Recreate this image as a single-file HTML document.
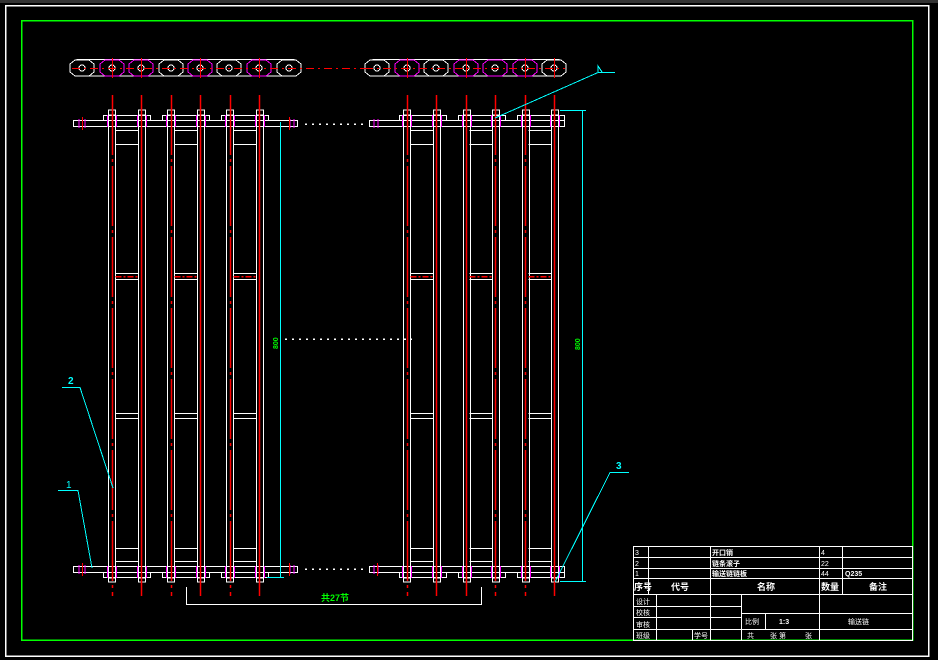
<!DOCTYPE html>
<html><head><meta charset="utf-8"><style>
html,body{margin:0;padding:0;background:#000;}
svg{display:block;}
text{font-family:"Liberation Sans","Noto Sans CJK SC",sans-serif;}
</style></head><body>
<svg width="938" height="660" viewBox="0 0 938 660" xmlns="http://www.w3.org/2000/svg" shape-rendering="crispEdges">
<rect x="0" y="0" width="938" height="660" fill="#000"/>
<rect x="0" y="0" width="938" height="3" fill="#333"/>
<rect x="5.5" y="5.5" width="923" height="650.5" fill="none" stroke="#fff" stroke-width="1.5"/>
<rect x="21.5" y="20.5" width="891" height="619.5" fill="none" stroke="#0f0" stroke-width="1.5"/>

<defs>
<g id="post">
  <line x1="0" y1="115" x2="0" y2="578" stroke="#fff"/>
  <line x1="7" y1="115" x2="7" y2="578" stroke="#fff"/>
  <rect x="0" y="110" width="7" height="5" fill="none" stroke="#fff"/>
  <rect x="0" y="578" width="7" height="4" fill="none" stroke="#fff"/>
  <line x1="-1" y1="115" x2="-1" y2="127" stroke="#f0f"/>
  <line x1="8" y1="115" x2="8" y2="127" stroke="#f0f"/>
  <line x1="-1" y1="566" x2="-1" y2="578" stroke="#f0f"/>
  <line x1="8" y1="566" x2="8" y2="578" stroke="#f0f"/>
</g>
<g id="bars">
  <line x1="0" y1="130" x2="23" y2="130" stroke="#fff"/>
  <line x1="0" y1="144" x2="23" y2="144" stroke="#fff"/>
  <line x1="0" y1="273" x2="23" y2="273" stroke="#fff"/>
  <line x1="0" y1="279" x2="23" y2="279" stroke="#fff"/>
  <line x1="0" y1="276" x2="23" y2="276" stroke="#f00" stroke-width="1.5" stroke-dasharray="6 2 2 2"/>
  <line x1="0" y1="413" x2="23" y2="413" stroke="#fff"/>
  <line x1="0" y1="418" x2="23" y2="418" stroke="#fff"/>
  <line x1="0" y1="548" x2="23" y2="548" stroke="#fff"/>
  <line x1="0" y1="561" x2="23" y2="561" stroke="#fff"/>
</g>
<g id="link">
  <polygon points="-12,-4 -7,-8 7,-8 12,-4 12,4 7,8 -7,8 -12,4" fill="#000" stroke="#fff"/>
  <circle cx="0" cy="0" r="3" fill="none" stroke="#fff"/>
</g>
<g id="linkm">
  <polygon points="-12,-4 -7,-8 7,-8 12,-4 12,4 7,8 -7,8 -12,4" fill="#000" stroke="#f0f"/>
  <circle cx="0" cy="0" r="3" fill="none" stroke="#fff"/>
</g>
</defs>

<rect x="73" y="59.5" width="225" height="16.5" rx="5" fill="none" stroke="#fff"/>
<use href="#link" x="82" y="68"/><use href="#linkm" x="112" y="68"/><use href="#linkm" x="141" y="68"/>
<use href="#link" x="171" y="68"/><use href="#linkm" x="200" y="68"/><use href="#link" x="229" y="68"/>
<use href="#linkm" x="259" y="68"/><use href="#link" x="289" y="68"/>
<rect x="369" y="59.5" width="194" height="16.5" rx="5" fill="none" stroke="#fff"/>
<use href="#link" x="377" y="68"/><use href="#linkm" x="407" y="68"/><use href="#link" x="436" y="68"/>
<use href="#linkm" x="466" y="68"/><use href="#linkm" x="495" y="68"/><use href="#linkm" x="525" y="68"/>
<use href="#link" x="554" y="68"/>
<line x1="72" y1="68.5" x2="365" y2="68.5" stroke="#f00" stroke-dasharray="8 4 2 4"/>
<line x1="365" y1="68.5" x2="565" y2="68.5" stroke="#f00" stroke-dasharray="8 4 2 4"/>
<g stroke="#f00" stroke-width="1">
<line x1="112.5" y1="58" x2="112.5" y2="78"/><line x1="141.5" y1="58" x2="141.5" y2="78"/><line x1="200.5" y1="58" x2="200.5" y2="78"/>
<line x1="259.5" y1="58" x2="259.5" y2="78"/><line x1="407.5" y1="58" x2="407.5" y2="78"/><line x1="466.5" y1="58" x2="466.5" y2="78"/>
<line x1="525.5" y1="58" x2="525.5" y2="78"/><line x1="554.5" y1="58" x2="554.5" y2="78"/>
</g>

<g fill="#000" stroke="#fff">
<rect x="73.5" y="120.5" width="224" height="6"/>
<rect x="369.5" y="120.5" width="195" height="6"/>
<rect x="73.5" y="566.5" width="224" height="6"/>
<rect x="369.5" y="566.5" width="195" height="6"/>
<rect x="103.5" y="115.5" width="47" height="5"/><rect x="162.5" y="115.5" width="47" height="5"/><rect x="221.5" y="115.5" width="47" height="5"/>
<rect x="399.5" y="115.5" width="47" height="5"/><rect x="458.5" y="115.5" width="47" height="5"/><rect x="517.5" y="115.5" width="47" height="5"/>
<rect x="103.5" y="572.5" width="47" height="5"/><rect x="162.5" y="572.5" width="47" height="5"/><rect x="221.5" y="572.5" width="47" height="5"/>
<rect x="399.5" y="572.5" width="47" height="5"/><rect x="458.5" y="572.5" width="47" height="5"/><rect x="517.5" y="572.5" width="47" height="5"/>
</g>
<g stroke="#f0f"><line x1="79" y1="119" x2="79" y2="128"/><line x1="85" y1="119" x2="85" y2="128"/><line x1="290" y1="119" x2="290" y2="128"/><line x1="294" y1="119" x2="294" y2="128"/>
<line x1="374" y1="119" x2="374" y2="128"/><line x1="378" y1="119" x2="378" y2="128"/>
<line x1="79" y1="565" x2="79" y2="574"/><line x1="85" y1="565" x2="85" y2="574"/><line x1="290" y1="565" x2="290" y2="574"/><line x1="294" y1="565" x2="294" y2="574"/>
<line x1="374" y1="565" x2="374" y2="574"/><line x1="378" y1="565" x2="378" y2="574"/></g>
<g stroke="#f00" stroke-width="1"><line x1="82.5" y1="117" x2="82.5" y2="130"/><line x1="289.5" y1="117" x2="289.5" y2="130"/>
<line x1="82.5" y1="563" x2="82.5" y2="576"/><line x1="289.5" y1="563" x2="289.5" y2="576"/><line x1="377.5" y1="563" x2="377.5" y2="576"/></g>

<use href="#post" x="108.5" y="0"/><use href="#post" x="138.5" y="0"/>
<use href="#post" x="167.5" y="0"/><use href="#post" x="197.5" y="0"/>
<use href="#post" x="226.5" y="0"/><use href="#post" x="256.5" y="0"/>
<use href="#post" x="403.5" y="0"/><use href="#post" x="433.5" y="0"/>
<use href="#post" x="463.5" y="0"/><use href="#post" x="492.5" y="0"/>
<use href="#post" x="522.5" y="0"/><use href="#post" x="551.5" y="0"/>
<use href="#bars" x="115.5" y="0.5"/><use href="#bars" x="174.5" y="0.5"/><use href="#bars" x="233.5" y="0.5"/>
<use href="#bars" x="410.5" y="0.5"/><use href="#bars" x="469.5" y="0.5"/><use href="#bars" x="528.5" y="0.5"/>

<!-- red centerlines -->
<g stroke="#ff0000" stroke-width="1.5" shape-rendering="auto">
<line x1="112.5" y1="95" x2="112.5" y2="596" stroke-dasharray="60 4 3 4"/>
<line x1="141.5" y1="95" x2="141.5" y2="596"/>
<line x1="171.5" y1="95" x2="171.5" y2="596" stroke-dasharray="60 4 3 4"/>
<line x1="200.5" y1="95" x2="200.5" y2="596"/>
<line x1="230.5" y1="95" x2="230.5" y2="596" stroke-dasharray="60 4 3 4"/>
<line x1="259.5" y1="95" x2="259.5" y2="596"/>
<line x1="407.5" y1="95" x2="407.5" y2="596" stroke-dasharray="60 4 3 4"/>
<line x1="436.5" y1="95" x2="436.5" y2="596"/>
<line x1="466.5" y1="95" x2="466.5" y2="596"/>
<line x1="495.5" y1="95" x2="495.5" y2="596" stroke-dasharray="60 4 3 4"/>
<line x1="525.5" y1="95" x2="525.5" y2="596" stroke-dasharray="60 4 3 4"/>
<line x1="554.5" y1="95" x2="554.5" y2="596"/>
</g>

<g stroke="#fff" stroke-width="1.5" stroke-dasharray="2 5">
<line x1="305" y1="124" x2="365" y2="124"/>
<line x1="305" y1="569" x2="365" y2="569"/>
<line x1="285" y1="339" x2="412" y2="339"/>
</g>

<g stroke="#0ff" fill="none">
<line x1="280.5" y1="122" x2="280.5" y2="577"/>
<line x1="267" y1="577.5" x2="284" y2="577.5"/>
<line x1="582.5" y1="110" x2="582.5" y2="581"/>
<line x1="560" y1="110.5" x2="586" y2="110.5"/>
<line x1="560" y1="581.5" x2="586" y2="581.5"/>
<polyline points="62,387.5 80,387.5 113,488"/>
<polyline points="58,490.5 78,490.5 92,568"/>
<polyline points="629,472.5 610,472.5 555,582"/>
<polyline points="495,118 598,72.5 615,72.5"/>
<polyline points="598,72 598,66 602,72"/>
</g>
<text x="0" y="0" transform="translate(278,349) rotate(-90)" fill="#0f0" font-size="7" font-weight="bold">800</text>
<text x="0" y="0" transform="translate(580,350) rotate(-90)" fill="#0f0" font-size="7" font-weight="bold">800</text>
<text x="68" y="384" fill="#0ff" font-size="10" font-weight="bold">2</text>
<text x="66" y="488" fill="#0ff" font-size="10">1</text>
<text x="616" y="469" fill="#0ff" font-size="10" font-weight="bold">3</text>

<polyline points="186.5,587 186.5,604.5 481.5,604.5 481.5,587" fill="none" stroke="#fff"/>
<text x="321" y="601" fill="#0f0" font-size="9" font-weight="bold">共27节</text>

<g stroke="#fff" fill="none">
<rect x="633.5" y="546.5" width="279" height="94"/>
<line x1="633" y1="557.5" x2="912" y2="557.5"/>
<line x1="633" y1="568.5" x2="912" y2="568.5"/>
<line x1="633" y1="578.5" x2="912" y2="578.5"/>
<line x1="633" y1="594.5" x2="912" y2="594.5"/>
<line x1="648.5" y1="546" x2="648.5" y2="594"/>
<line x1="710.5" y1="546" x2="710.5" y2="640"/>
<line x1="819.5" y1="546" x2="819.5" y2="594"/>
<line x1="842.5" y1="546" x2="842.5" y2="594"/>
<line x1="633" y1="606.5" x2="741" y2="606.5"/>
<line x1="633" y1="617.5" x2="741" y2="617.5"/>
<line x1="741" y1="613.5" x2="912" y2="613.5"/>
<line x1="633" y1="629.5" x2="912" y2="629.5"/>
<line x1="656.5" y1="594" x2="656.5" y2="640"/>
<line x1="692.5" y1="629" x2="692.5" y2="640"/>
<line x1="741.5" y1="594" x2="741.5" y2="640"/>
<line x1="765.5" y1="613" x2="765.5" y2="629"/>
<line x1="819.5" y1="594" x2="819.5" y2="640"/>
</g>
<g fill="#fff" font-size="7">
<text x="635" y="555">3</text><text x="712" y="555" font-weight="bold">开口销</text><text x="821" y="555">4</text>
<text x="635" y="566">2</text><text x="712" y="566" font-weight="bold">链条滚子</text><text x="821" y="566">22</text>
<text x="635" y="576">1</text><text x="712" y="576" font-weight="bold">输送链链板</text><text x="821" y="576">44</text><text x="845" y="576" font-weight="bold">Q235</text>
<text x="634" y="590" font-size="9" font-weight="bold">序号</text>
<text x="671" y="590" font-size="9" font-weight="bold">代号</text>
<text x="757" y="590" font-size="9" font-weight="bold">名称</text>
<text x="821" y="590" font-size="9" font-weight="bold">数量</text>
<text x="869" y="590" font-size="9" font-weight="bold">备注</text>
<text x="636" y="604">设计</text>
<text x="636" y="615">校核</text>
<text x="636" y="627">审核</text>
<text x="636" y="638">班级</text>
<text x="694" y="638">学号</text>
<text x="745" y="624">比例</text>
<text x="779" y="624" font-weight="bold">1:3</text>
<text x="848" y="624">输送链</text>
<text x="747" y="638">共</text><text x="770" y="638">张 第</text><text x="805" y="638">张</text>
</g>
</svg>
</body></html>
